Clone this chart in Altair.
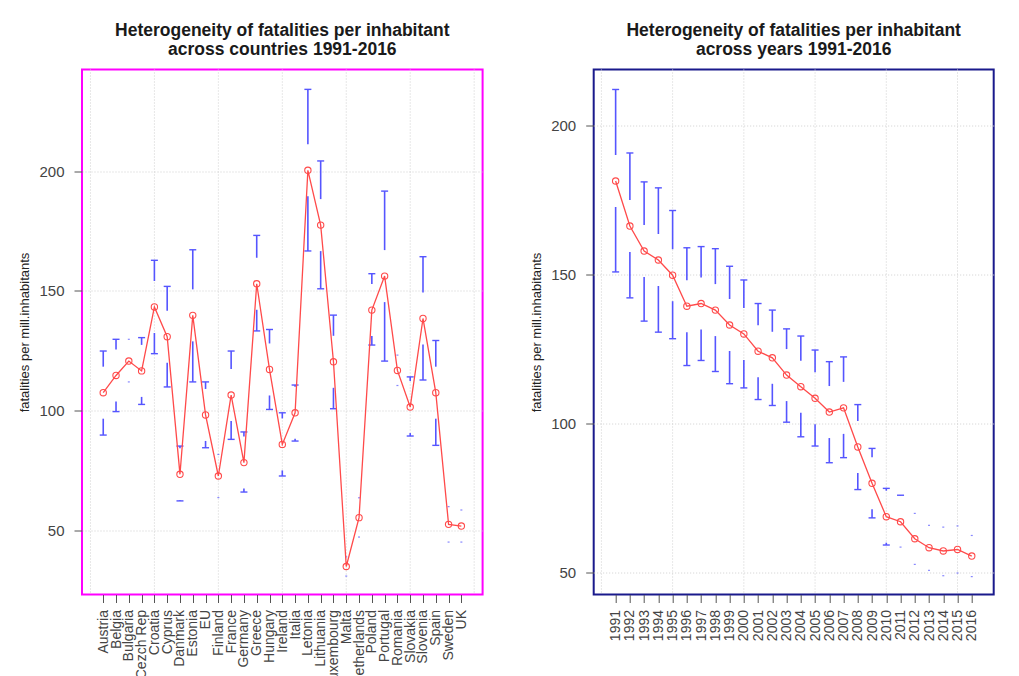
import json
import altair as alt
import pandas as pd

# ---------------- data ----------------
countries = ["Austria", "Belgia", "Bulgaria", "Cezch Rep", "Croatia", "Cyprus", "Danmark",
             "Estonia", "EU", "Finland", "France", "Germany", "Greece", "Hungary", "Ireland",
             "Italia", "Letonia", "Lithuania", "Luxembourg", "Malta", "Netherlands", "Poland",
             "Portugal", "Romania", "Slovakia", "Slovenia", "Spain", "Sweden", "UK"]
country_mean = [107.4, 114.6, 120.6, 116.5, 143.2, 130.8, 73.3, 139.7, 98.1, 72.6, 106.4, 78.2,
                152.9, 117.1, 85.8, 99.0, 200.3, 177.4, 120.3, 34.8, 55.2, 141.9, 156.1, 116.7,
                101.4, 138.4, 107.4, 52.4, 51.7]
country_lo = [89.7, 99.5, 111.9, 102.5, 123.7, 109.8, 62.2, 111.9, 84.4, 63.6, 87.9, 65.9,
              133.2, 100.4, 72.6, 87.2, 166.6, 150.8, 100.7, 30.8, 47.1, 127.3, 120.6, 110.4,
              89.3, 112.7, 85.4, 45.0, 45.0]
country_hi = [124.8, 129.7, 129.7, 130.4, 162.7, 151.8, 85.1, 167.1, 111.9, 81.6, 124.8, 91.0,
              173.1, 133.8, 99.0, 110.6, 234.1, 204.2, 139.8, 38.8, 63.5, 157.1, 191.6, 123.1,
              114.0, 164.2, 129.2, 59.8, 58.4]

years = ["1991", "1992", "1993", "1994", "1995", "1996", "1997", "1998", "1999", "2000",
         "2001", "2002", "2003", "2004", "2005", "2006", "2007", "2008", "2009", "2010",
         "2011", "2012", "2013", "2014", "2015", "2016"]
year_mean = [181.4, 166.3, 157.9, 154.9, 149.8, 139.4, 140.3, 138.1, 133.1, 130.1, 124.3, 122.1,
             116.3, 112.4, 108.5, 103.9, 105.3, 92.2, 80.0, 68.8, 67.1, 61.4, 58.4, 57.3, 57.8, 55.6]
year_lo = [150.9, 142.2, 134.4, 130.7, 128.5, 119.5, 121.2, 117.5, 113.4, 112.0, 108.1, 106.1,
           100.5, 95.6, 92.5, 86.9, 88.6, 77.9, 68.4, 59.3, 58.6, 52.8, 50.8, 49.0, 49.9, 48.7]
year_hi = [212.1, 190.8, 181.1, 179.1, 171.5, 159.0, 159.4, 158.7, 152.8, 148.2, 140.3, 138.1,
           131.8, 129.4, 124.7, 120.8, 122.4, 106.4, 91.7, 78.3, 76.0, 69.9, 65.9, 65.3, 65.7, 62.5]

y_ticks = [50, 100, 150, 200]

# ---------------- style ----------------
FONT = "Liberation Sans"
W_LEFT, W_RIGHT, H = 400.6, 400, 525
GAP_PX = 26
BLUE = "#5555ff"
RED = "#ff4a4a"
GRID = "#cfcfcf"


def panel(labels, mean, lo, hi, ydomain, title, box_color, width):
    n = len(labels)
    ext = 0.04 * n
    xdomain = [0.5 - ext, n + 0.5 + ext]
    df = pd.DataFrame({"idx": list(range(1, n + 1)), "label": labels,
                       "mean": mean, "lo": lo, "hi": hi})
    gap = GAP_PX * (ydomain[1] - ydomain[0]) / H
    base = alt.Chart(df).transform_calculate(
        lo_end=f"max(datum.mean - {gap}, datum.lo)",
        hi_start=f"min(datum.mean + {gap}, datum.hi)",
        has_lo=f"(datum.mean - {gap}) > datum.lo",
        has_hi=f"(datum.mean + {gap}) < datum.hi",
    )
    xs = alt.Scale(domain=xdomain, nice=False, zero=False)
    ys = alt.Scale(domain=ydomain, nice=False, zero=False)

    label_expr = "[" + ",".join(json.dumps(l) for l in labels) + "][datum.value - 1]"
    x_axis = alt.Axis(values=list(range(1, n + 1)), labelExpr=label_expr, labelAngle=-90,
                      labelAlign="right", labelBaseline="middle",
                      labelOverlap=False, labelFlush=False, grid=False, domain=False,
                      tickSize=8, tickColor="#555", labelPadding=7, labelFontSize=14,
                      labelColor="#444", title=None, labelFont=FONT)
    y_axis = alt.Axis(values=y_ticks, grid=True, gridDash=[1, 2], gridColor=GRID, domain=False,
                      tickSize=8, tickColor="#555", labelPadding=10, labelFontSize=15,
                      labelColor="#444", title="fatalities per mill.inhabitants",
                      titleFontSize=13, titleFontWeight="normal", titleColor="#222",
                      titlePadding=7, labelFont=FONT, titleFont=FONT)

    def X(f):
        return alt.X(f, scale=xs, axis=x_axis)

    def Y(f):
        return alt.Y(f, scale=ys, axis=y_axis)

    # vertical dotted grid lines (R grid(): pretty positions)
    vgrid = alt.Chart(pd.DataFrame({"g": list(range(0, n + 5, 5))})).transform_filter(
        f"datum.g <= {xdomain[1]}").mark_rule(color=GRID, strokeDash=[1, 2], strokeWidth=1).encode(
        x=X("g:Q"))

    lower = base.transform_filter("datum.has_lo").mark_rule(color=BLUE, strokeWidth=1.6).encode(
        x=X("idx:Q"), y=Y("lo:Q"), y2="lo_end:Q")
    upper = base.transform_filter("datum.has_hi").mark_rule(color=BLUE, strokeWidth=1.6).encode(
        x=X("idx:Q"), y=Y("hi_start:Q"), y2="hi:Q")
    lcap = base.transform_filter("datum.has_lo").mark_rule(
        color=BLUE, strokeWidth=1.4, xOffset=-3.5, x2Offset=3.5).encode(
        x=X("idx:Q"), x2="idx:Q", y=Y("lo:Q"))
    ucap = base.transform_filter("datum.has_hi").mark_rule(
        color=BLUE, strokeWidth=1.4, xOffset=-3.5, x2Offset=3.5).encode(
        x=X("idx:Q"), x2="idx:Q", y=Y("hi:Q"))
    ldot = base.transform_filter("!datum.has_lo").mark_rule(
        color=BLUE, strokeWidth=1.2, opacity=0.7, xOffset=-1, x2Offset=1).encode(
        x=X("idx:Q"), x2="idx:Q", y=Y("lo:Q"))
    udot = base.transform_filter("!datum.has_hi").mark_rule(
        color=BLUE, strokeWidth=1.2, opacity=0.7, xOffset=-1, x2Offset=1).encode(
        x=X("idx:Q"), x2="idx:Q", y=Y("hi:Q"))

    line = base.mark_line(color=RED, strokeWidth=1.3).encode(x=X("idx:Q"), y=Y("mean:Q"))
    pts = base.mark_point(color=RED, filled=False, size=40, strokeWidth=1.1, opacity=1).encode(
        x=X("idx:Q"), y=Y("mean:Q"))

    return alt.layer(vgrid, lower, upper, lcap, ucap, ldot, udot, line, pts).properties(
        width=width, height=H,
        title=alt.TitleParams(title, fontSize=17.5, fontWeight="bold", font=FONT, color="#1a1a1a",
                              anchor="middle", frame="group", lineHeight=19, offset=11),
        view=alt.ViewBackground(stroke=box_color, strokeWidth=2),
    )


left = panel(countries, country_mean, country_lo, country_hi, [23.1, 242.4],
             ["Heterogeneity of fatalities per inhabitant", "across countries 1991-2016"],
             "#ff00ff", W_LEFT)
right = panel(years, year_mean, year_lo, year_hi, [42.7, 218.8],
              ["Heterogeneity of fatalities per inhabitant", "across years 1991-2016"],
              "#1a1a8c", W_RIGHT)

chart = alt.hconcat(left, right, spacing=110.7, bounds="flush").properties(
    padding={"left": 9, "top": 12.5, "right": 5, "bottom": 5},
    background="white",
).configure(font=FONT)

chart.save("out.html", embed_options={"renderer": "svg", "actions": False})
